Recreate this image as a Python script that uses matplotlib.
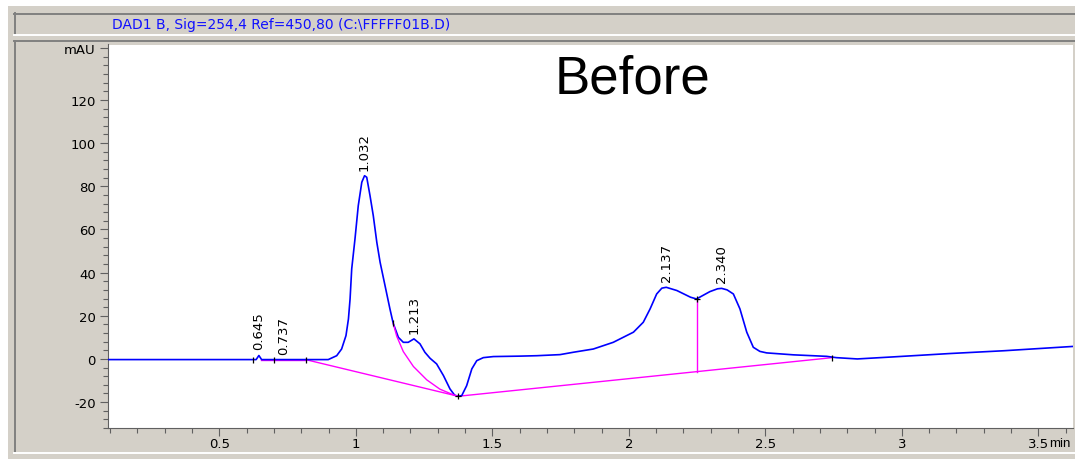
import matplotlib
matplotlib.use('Agg')
import matplotlib.pyplot as plt
import numpy as np
from matplotlib.ticker import MultipleLocator, FixedLocator, FixedFormatter

# DAD1 B signal, retention time (min) vs absorbance (mAU)
rt = [0.09, 0.60, 0.635, 0.645, 0.655, 0.68, 0.75, 0.82, 0.87, 0.899,
      0.930, 0.948, 0.964, 0.973, 0.979, 0.985, 0.997, 1.009, 1.022, 1.032,
      1.040, 1.052, 1.064, 1.077, 1.089, 1.107, 1.125, 1.137, 1.156, 1.174,
      1.192, 1.213, 1.235, 1.253, 1.272, 1.296, 1.321, 1.345, 1.362, 1.375,
      1.388, 1.406, 1.425, 1.443, 1.467, 1.504, 1.60, 1.663, 1.748, 1.797,
      1.870, 1.943, 2.017, 2.053, 2.078, 2.102, 2.121, 2.137, 2.176, 2.226,
      2.248, 2.297, 2.325, 2.340, 2.360, 2.383, 2.407, 2.432, 2.456, 2.480,
      2.505, 2.603, 2.725, 2.760, 2.837, 2.962, 3.175, 3.374, 3.627]
sig = [-0.3, -0.3, -0.3, 1.6, -0.3, -0.3, -0.3, -0.3, -0.3, -0.3,
       1.5, 4.6, 10.8, 18.5, 27.8, 41.7, 55.6, 71.0, 81.9, 84.9,
       84.2, 75.7, 66.4, 54.0, 44.8, 34.0, 23.2, 16.5, 10.0, 7.7,
       7.7, 9.3, 7.0, 3.1, 0.3, -2.3, -7.7, -13.9, -16.8, -17.3,
       -17.0, -12.4, -4.6, -0.8, 0.6, 1.1, 1.3, 1.5, 2.0, 3.1,
       4.6, 7.7, 12.4, 17.0, 23.2, 30.1, 32.8, 33.2, 31.7, 28.6,
       27.8, 31.2, 32.5, 32.7, 32.0, 30.1, 23.2, 12.4, 5.4, 3.5,
       2.8, 1.9, 1.2, 0.6, 0.0, 0.9, 2.5, 3.8, 5.8]

# integration baselines
flat_t = [0.652, 0.816]
flat_y = [-0.3, -0.3]
drift_t = [0.816, 1.375]
drift_y = [-0.3, -17.3]
skim_t = [1.137, 1.150, 1.174, 1.211, 1.260, 1.308, 1.357, 1.375]
skim_y = [16.5, 10.5, 3.4, -3.5, -9.7, -14.0, -16.6, -17.3]
late_t = [1.375, 2.745]
late_y = [-17.3, 0.6]
drop_t = 2.248

# integration event marks
tick_t = [0.622, 0.702, 0.816, 1.137, 2.745]
tick_y = [-0.3, -0.3, -0.3, 16.5, 0.6]
cross_t = [1.375, 2.248]
cross_y = [-17.3, 27.8]

peak_rt = [0.645, 0.737, 1.032, 1.213, 2.137, 2.340]

W, H = 1075, 460
fs = 9.5
fig = plt.figure(figsize=(W / 100, H / 100), dpi=100)
fig.patch.set_facecolor('white')

# window frame drawn in pixel coordinates
bg = fig.add_axes([0, 0, 1, 1])
bg.set_xlim(0, W)
bg.set_ylim(H, 0)
bg.axis('off')
bg.add_patch(plt.Rectangle((8, 7), W - 8, H - 7, facecolor='#d4d0c8', edgecolor='none'))
dark, light = '#808080', '#ffffff'
bg.plot([14, W], [14.5, 14.5], color=dark, lw=1.4)
bg.plot([14.5, 14.5], [14, 35], color=dark, lw=1.4)
bg.plot([14, W], [35.8, 35.8], color=light, lw=1.4)
bg.plot([14, W], [42, 42], color=dark, lw=1.4)
bg.plot([14.5, 14.5], [42, 453], color=dark, lw=1.4)
bg.plot([14, W], [453.5, 453.5], color=light, lw=1.4)
bg.text(281, 25.5, r'DAD1 B, Sig=254,4 Ref=450,80 (C:\FFFFF01B.D)', color='#1010ff',
        fontsize=10, ha='center', va='center', family='DejaVu Sans')

ax = fig.add_axes([107.5 / W, 1 - 429 / H, (1073 - 107.5) / W, (429 - 45.5) / H])
ax.set_facecolor('white')
ax.set_xlim(0.0905, 3.627)
ax.set_ylim(-32, 145.7)

ax.plot(rt, sig, color='#0000ff', lw=1.2, zorder=3)
mag = '#ff00ff'
ax.plot(flat_t, flat_y, color=mag, lw=1.0, zorder=2)
ax.plot(drift_t, drift_y, color=mag, lw=1.0, zorder=2)
ax.plot(skim_t, skim_y, color=mag, lw=1.0, zorder=4)
ax.plot(late_t, late_y, color=mag, lw=1.0, zorder=2)
drop_base = np.interp(drop_t, late_t, late_y)
drop_top = np.interp(drop_t, rt, sig)
ax.plot([drop_t, drop_t], [drop_base, drop_top], color=mag, lw=1.0, zorder=2)

ax.plot(tick_t, tick_y, ls='none', marker='|', ms=5, mew=0.9, color='black', zorder=5)
ax.plot(cross_t, cross_y, ls='none', marker='+', ms=5, mew=0.9, color='black', zorder=5)

peak_top = np.interp(peak_rt, rt, sig)
for t, h in zip(peak_rt, peak_top):
    ax.annotate('%.3f' % t, xy=(t, h), xytext=(0, 6), textcoords='offset pixels',
                rotation=90, ha='center', va='bottom', fontsize=fs, family='DejaVu Sans')

for s in ['top', 'right']:
    ax.spines[s].set_visible(False)
for s in ['left', 'bottom']:
    ax.spines[s].set_color('#606060')
    ax.spines[s].set_linewidth(0.8)

yt = [-20, 0, 20, 40, 60, 80, 100, 120, 144]
ax.yaxis.set_major_locator(FixedLocator(yt))
ax.yaxis.set_major_formatter(FixedFormatter([str(v) for v in yt[:-1]] + ['mAU']))
ax.yaxis.set_minor_locator(MultipleLocator(4))
xt = [0.5, 1, 1.5, 2, 2.5, 3, 3.5]
ax.xaxis.set_major_locator(FixedLocator(xt))
ax.xaxis.set_major_formatter(FixedFormatter(['%g' % v for v in xt]))
ax.xaxis.set_minor_locator(MultipleLocator(0.1))
ax.tick_params(which='major', direction='out', length=5.5, width=0.8, color='#606060',
               labelsize=fs, pad=3)
ax.tick_params(axis='x', which='major', pad=1)
ax.tick_params(which='minor', direction='out', length=3.5, width=0.8, color='#606060')
ax.annotate('min', xy=(3.5, 0), xycoords=('data', 'axes fraction'), xytext=(11, -9),
            textcoords='offset pixels', ha='left', va='top', fontsize=fs,
            family='Liberation Sans')

fig.text(555 / W, 1 - 94 / H, 'Before', fontsize=38, family='Liberation Sans',
         ha='left', va='baseline')

fig.savefig('out.png', dpi=100)
